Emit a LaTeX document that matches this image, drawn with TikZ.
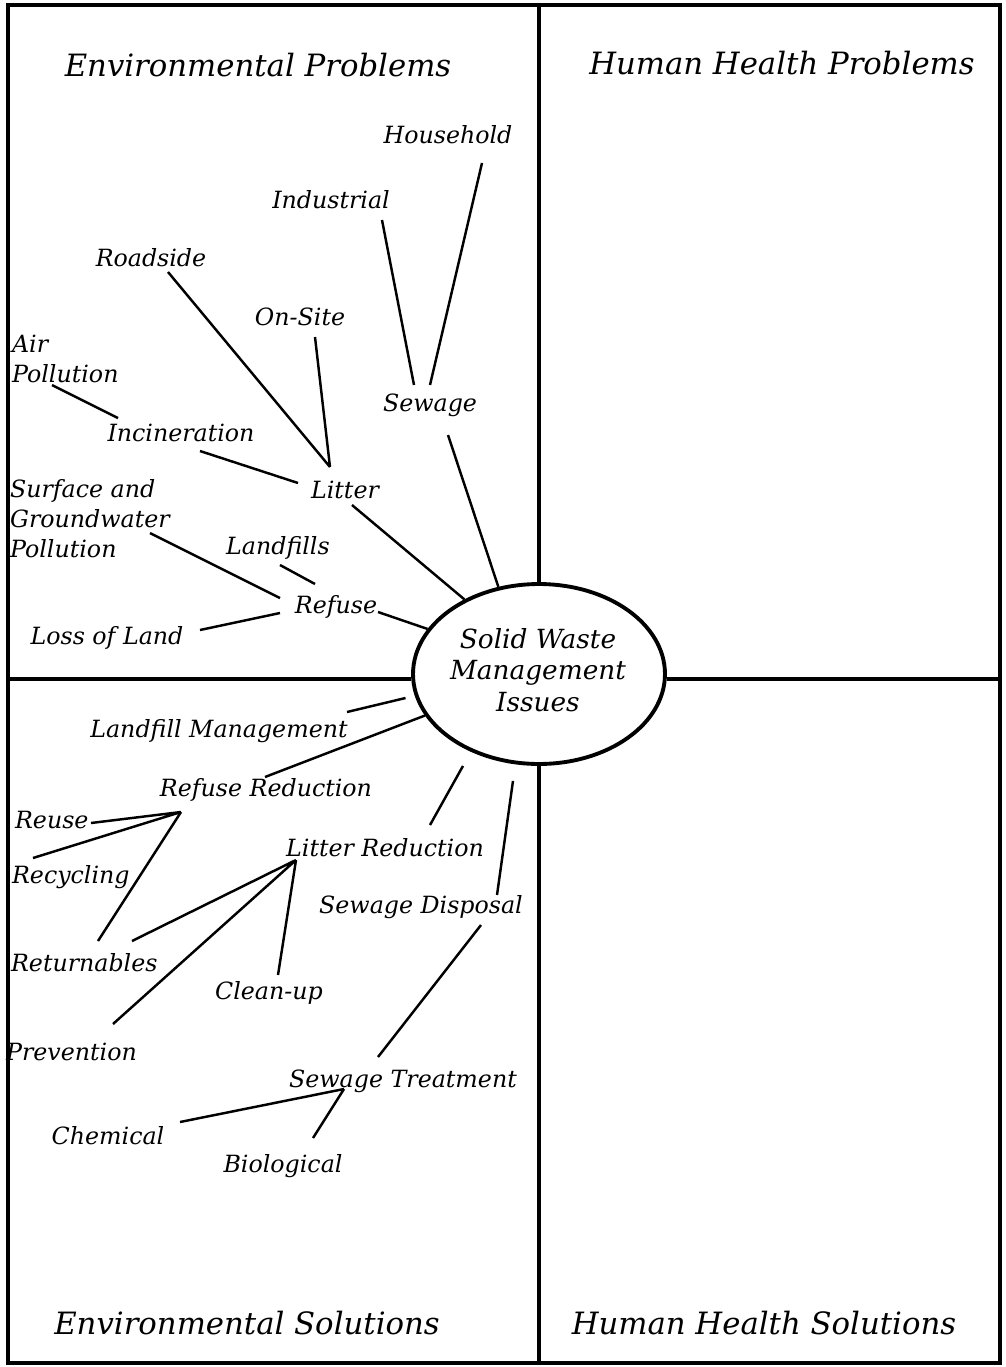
\documentclass[tikz,border=0pt]{standalone}
\usepackage{fontspec}
\setmainfont{DejaVu Serif}
\usetikzlibrary{shapes.geometric, positioning}

\tikzset{
  lbl/.style={font=\itshape\fontsize{13.5}{17}\selectfont, inner sep=1pt},
  ttl/.style={font=\itshape\fontsize{17.5}{21}\selectfont, inner sep=1pt},
  link/.style={line width=1.4pt},
  rule/.style={line width=1.8pt},
}

\begin{document}
\begin{tikzpicture}[x=0.02cm, y=-0.02cm]
\useasboundingbox (0,0) rectangle (1005,1367);
\draw[rule] (8,5) rectangle (1000,1363);

\node[ellipse, draw, line width=2.2pt, minimum width=5.04cm, minimum height=3.6cm, inner sep=0pt] (issues) at (539,674) {};
\node[align=center, font=\itshape\fontsize{15}{18}\selectfont] (issuestext) at (538,670) {Solid Waste\\Management\\Issues};

\draw[rule] (issues.north) -- (issues.north |- 0,5);
\draw[rule] (issues.south) -- (issues.south |- 0,1363);
\draw[rule] (issues.west |- 0,679) -- (8,679);
\draw[rule] (issues.east |- 0,679) -- (1000,679);

\node[ttl] (envprob) at (258,65) {Environmental Problems};
\node[ttl] (hhprob) at (782,63) {Human Health Problems};
\node[ttl] (envsol) at (247,1323) {Environmental Solutions};
\node[ttl] (hhsol) at (764,1323) {Human Health Solutions};

\node[lbl] (household) at (448,135) {Household};
\node[lbl] (industrial) at (331,200) {Industrial};
\node[lbl] (roadside) at (151,258) {Roadside};
\node[lbl] (onsite) at (300,317) {On-Site};
\node[lbl, align=left, anchor=west] (airpol) at (10,359) {Air\\Pollution};
\node[lbl] (sewage) at (430,405) {Sewage};
\node[lbl] (incin) at (181,433) {Incineration};
\node[lbl] (litter) at (345,490) {Litter};
\node[lbl, align=left, anchor=west] (surface) at (8,519) {Surface and\\Groundwater\\Pollution};
\node[lbl] (landfills) at (278,548) {Landfills};
\node[lbl] (refuse) at (336,607) {Refuse};
\node[lbl] (lossland) at (107,638) {Loss of Land};

\node[lbl] (landmgmt) at (219,731) {Landfill Management};
\node[lbl] (refred) at (266,790) {Refuse Reduction};
\node[lbl, anchor=west] (reuse) at (13,820) {Reuse};
\node[lbl, anchor=west] (recycling) at (10,877) {Recycling};
\node[lbl] (litred) at (385,848) {Litter Reduction};
\node[lbl] (sewdisp) at (421,907) {Sewage Disposal};
\node[lbl, anchor=west] (returnables) at (9,963) {Returnables};
\node[lbl] (cleanup) at (269,993) {Clean-up};
\node[lbl, anchor=west] (prevention) at (4,1052) {Prevention};
\node[lbl] (sewtreat) at (403,1081) {Sewage Treatment};
\node[lbl] (chemical) at (108,1136) {Chemical};
\node[lbl] (biological) at (283,1166) {Biological};

\coordinate (rrhub) at (181,812);
\coordinate (lrhub) at (296,860);
\coordinate (sthub) at (344,1089);

\draw[link]
  ([shift={(34,28)}]household.center) -- ([shift={(0,-20)}]sewage.center)
  ([shift={(51,20)}]industrial.center) -- ([shift={(-16,-20)}]sewage.center)
  ([shift={(17,14)}]roadside.center) -- ([shift={(-15,-23)}]litter.center)
  ([shift={(15,20)}]onsite.center) -- ([shift={(-15,-23)}]litter.center)
  ([shift={(42,26)}]airpol.west) -- ([shift={(-63,-15)}]incin.center)
  ([shift={(19,18)}]incin.center) -- ([shift={(-47,-7)}]litter.center)
  ([shift={(18,30)}]sewage.center) -- (issues.115)
  ([shift={(7,15)}]litter.center) -- (issues.135)
  ([shift={(142,14)}]surface.west) -- ([shift={(-56,-9)}]refuse.center)
  ([shift={(2,17)}]landfills.center) -- ([shift={(-21,-23)}]refuse.center)
  ([shift={(93,-8)}]lossland.center) -- ([shift={(-56,6)}]refuse.center)
  ([shift={(42,5)}]refuse.center) -- (issues.158)
  ([shift={(-10,0)}]issues.191) -- ([shift={(128,-19)}]landmgmt.center)
  (issues.200) -- ([shift={(-1,-13)}]refred.center)
  ([shift={(-76,0)}]issues.south) -- ([shift={(45,-23)}]litred.center)
  ([shift={(-26,15)}]issues.south) -- ([shift={(76,-12)}]sewdisp.center)
  ([shift={(60,18)}]sewdisp.center) -- ([shift={(-25,-24)}]sewtreat.center)
  (rrhub) -- ([shift={(78,3)}]reuse.west)
  (rrhub) -- ([shift={(23,-19)}]recycling.west)
  (rrhub) -- ([shift={(89,-22)}]returnables.west)
  (lrhub) -- ([shift={(123,-22)}]returnables.west)
  (lrhub) -- ([shift={(109,-28)}]prevention.west)
  (lrhub) -- ([shift={(9,-18)}]cleanup.center)
  (sthub) -- ([shift={(72,-14)}]chemical.center)
  (sthub) -- ([shift={(30,-28)}]biological.center);
\end{tikzpicture}
\end{document}
